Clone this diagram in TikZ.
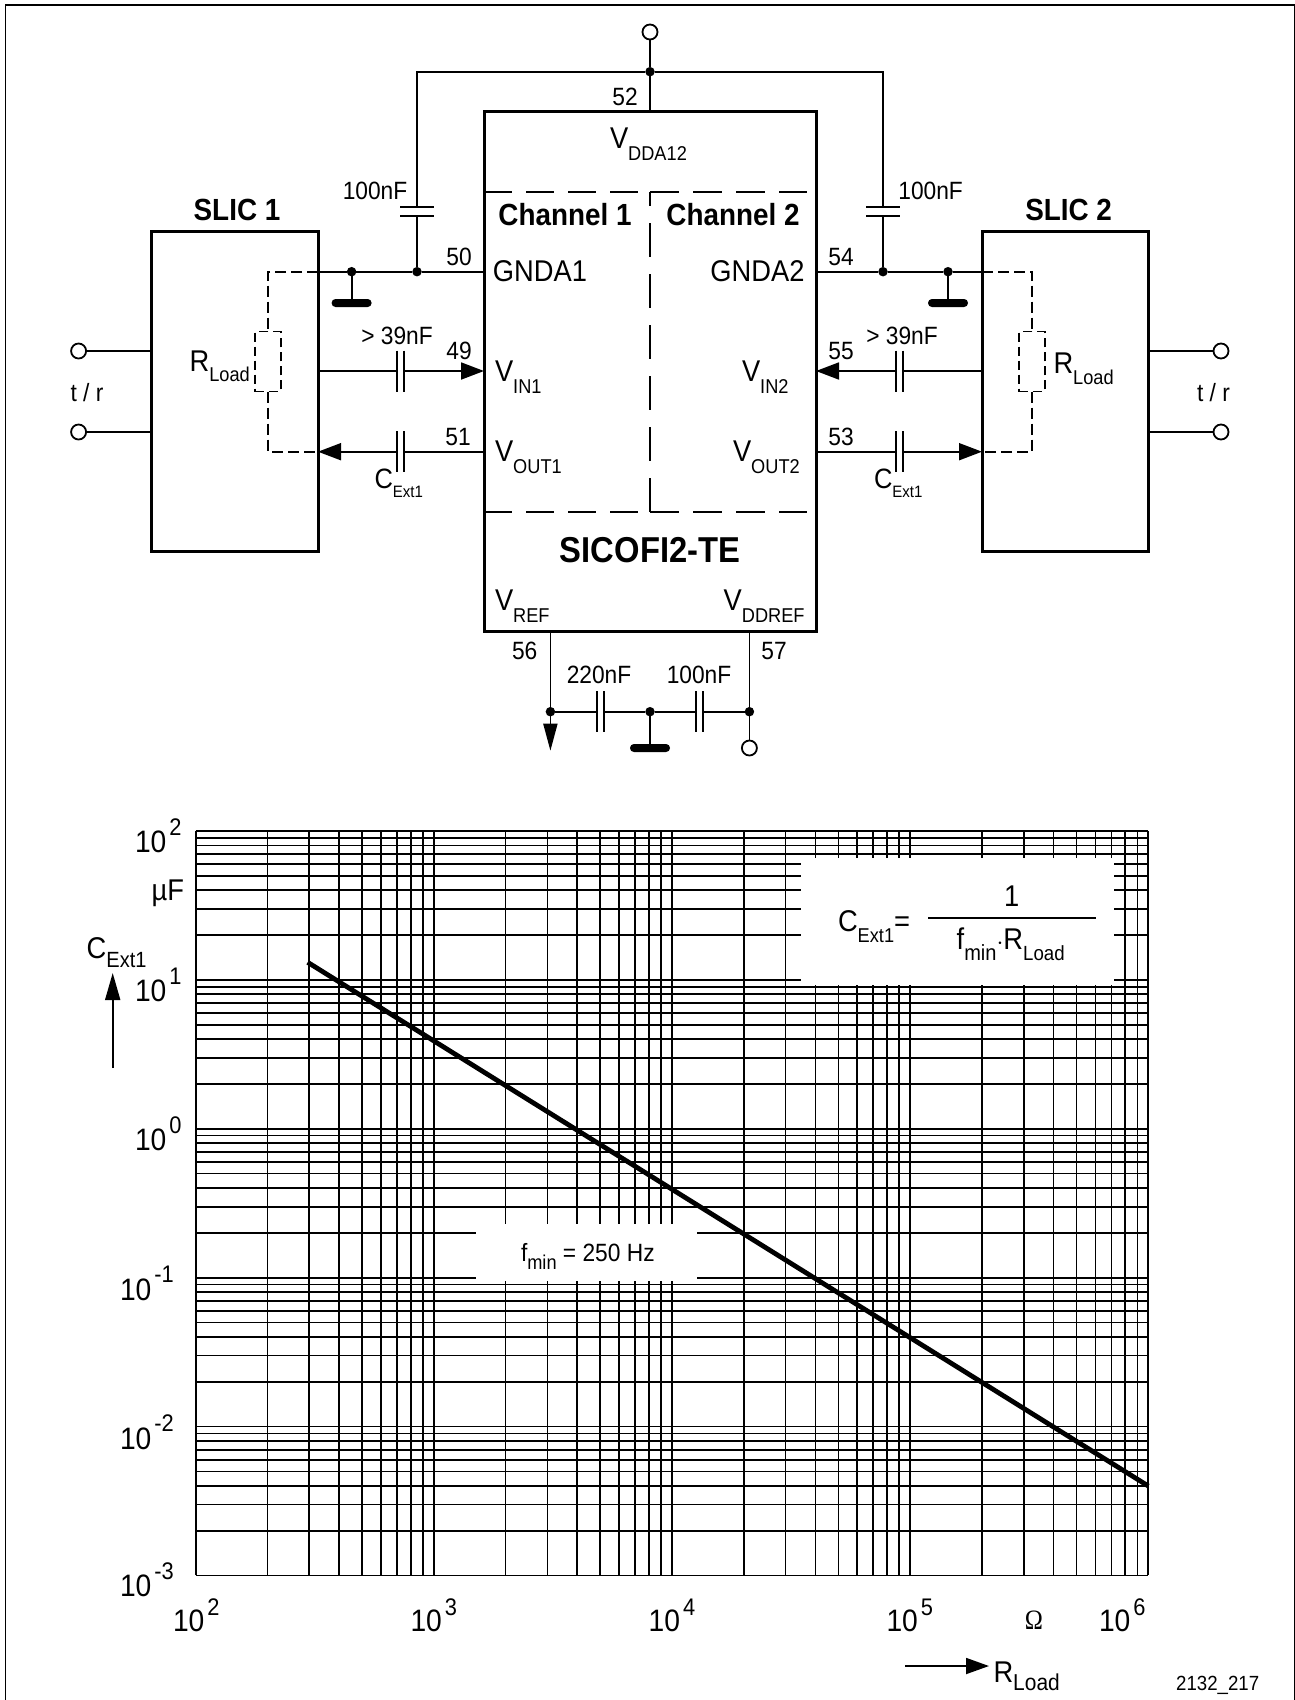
\documentclass[tikz,border=0pt]{standalone}
\usepackage{fontspec}
\setmainfont[FakeStretch=0.91]{Liberation Sans}
\newfontfamily\omegafont[FakeStretch=0.87]{Liberation Serif}
\usetikzlibrary{arrows.meta}
\newcommand\fs[1]{\fontsize{#1}{#1}\selectfont}
\newcommand\lowtxt[3]{\raisebox{-#1pt}{\fs{#2}#3}}
\newcommand\hightxt[3]{\raisebox{#1pt}{\fs{#2}#3}}
\newcommand\capH[2]{\node[capnode,minimum width=7pt,minimum height=41pt] (#1) at (#2) {};}
\newcommand\capV[2]{\node[capnode,minimum width=34pt,minimum height=8.7pt] (#1) at (#2) {};}
\newcommand\plateH[1]{\draw[wire] (#1.north west) -- (#1.south west) (#1.north east) -- (#1.south east);}
\newcommand\plateV[1]{\draw[wire] (#1.north west) -- (#1.north east) (#1.south west) -- (#1.south east);}
\tikzset{
  wire/.style={line width=1.8pt,line cap=butt},
  tipped/.style={wire,-{Triangle[length=23pt,width=17pt]}},
  box/.style={draw,line width=3pt,inner sep=0pt,outer sep=0pt,rectangle},
  capnode/.style={rectangle,inner sep=0pt,outer sep=0pt},
  junction/.style={circle,fill=black,inner sep=0pt,outer sep=0pt,minimum size=9.5pt},
  terminal/.style={circle,draw,line width=1.8pt,fill=white,inner sep=0pt,outer sep=0pt,minimum size=15pt},
  groundbar/.style={rectangle,rounded corners=3.9pt,fill=black,inner sep=0pt,outer sep=0pt,minimum width=40pt,minimum height=8pt},
  rload/.style={rectangle,draw,line width=1.5pt,dash pattern=on 9pt off 5pt,inner sep=0pt,outer sep=0pt,minimum width=25.6pt,minimum height=60pt},
  tdash/.style={line width=1.6pt,dash pattern=on 11pt off 5pt},
  chandash/.style={line width=1.8pt,dash pattern=on 28pt off 14pt},
  vdash/.style={line width=1.8pt,dash pattern=on 33.5pt off 17.5pt},
  gridline/.style={line width=1.7pt},
  txt/.style={inner sep=0pt,outer sep=0pt,font=\fs{25}},
  pintxt/.style={txt,anchor=base west,font=\fs{30}},
  ctxt/.style={txt,anchor=base west,font=\fs{28}},
  boldtxt/.style={txt,font=\fs{30.6}\bfseries},
  axistxt/.style={txt,anchor=base west,font=\fs{31}},
  whitebox/.style={rectangle,fill=white,inner sep=0pt,outer sep=0pt}
}
\begin{document}
\begin{tikzpicture}[x=1pt,y=-1pt]
\useasboundingbox (0,0) rectangle (1295,1700);
\draw[line width=1.6pt] (5.3,5) rectangle (1294.4,1705);

% ---------- blocks
\node[box,minimum width=332pt,minimum height=520pt] (chip) at (650,371.7) {};
\node[box,minimum width=167pt,minimum height=320pt] (slicA) at (234.5,391.7) {};
\node[box,minimum width=166pt,minimum height=320pt] (slicB) at (1065,391.7) {};

% ---------- inner dashes of the chip
\coordinate (dTL) at (484,191.7);
\coordinate (dTM) at (640,191.7);
\coordinate (dTC) at (650,191.7);
\coordinate (dTR) at (806.5,191.7);
\coordinate (dBL) at (484,511.7);
\coordinate (dBM) at (640,511.7);
\coordinate (dBC) at (650,511.7);
\coordinate (dBR) at (806.5,511.7);
\draw[chandash] (dTL) -- (dTM);
\draw[chandash] (dBL) -- (dBM);
\draw[chandash,dash pattern=on 29pt off 14pt] (dTC) -- (dTR);
\draw[chandash,dash pattern=on 29pt off 14pt] (dBC) -- (dBR);
\draw[vdash] (dBC) -- (dTC);

% ---------- supply at the top
\node[terminal] (tTop) at (650,32) {};
\node[junction] (jTop) at (650,71.7) {};
\coordinate (p52) at (650,111.7);
\coordinate (cnTL) at (417,71.7);
\coordinate (cnTR) at (883,71.7);
\capV{cA}{417,211.35}
\capV{cB}{883,211.35}
\node[junction] (jA) at (417,271.7) {};
\node[junction] (jGA) at (351.6,271.7) {};
\node[junction] (jB) at (883,271.7) {};
\node[junction] (jGB) at (948,271.7) {};
\node[groundbar] (gA) at (351.6,303) {};
\node[groundbar] (gB) at (948,303) {};
\coordinate (p50) at (484,271.7);
\coordinate (p54) at (816,271.7);
\coordinate (sAg) at (318,271.7);
\coordinate (sBg) at (982,271.7);
\draw[wire] (tTop) -- (jTop) -- (p52);
\draw[wire] (jTop) -- (cnTL) -- (cA) (cA) -- (jA);
\draw[wire] (jTop) -- (cnTR) -- (cB) (cB) -- (jB);
\plateV{cA}
\plateV{cB}
\draw[wire] (p50) -- (jA) -- (jGA) -- (sAg);
\draw[wire] (p54) -- (jB) -- (jGB) -- (sBg);
\draw[wire] (jGA) -- (gA);
\draw[wire] (jGB) -- (gB);

% ---------- signal lines, left
\coordinate (p49) at (484,371);
\coordinate (sAi) at (318,371);
\coordinate (p51) at (484,451.7);
\coordinate (sAo) at (318,451.7);
\capH{cIa}{400.7,371}
\capH{cOa}{400.7,451.7}
\draw[wire] (sAi) -- (cIa);
\draw[tipped] (cIa) -- (p49);
\draw[wire] (p51) -- (cOa);
\draw[tipped] (cOa) -- (sAo);
\plateH{cIa}
\plateH{cOa}

% ---------- signal lines, right
\coordinate (p55) at (816,371);
\coordinate (sBi) at (982,371);
\coordinate (p53) at (816,451.7);
\coordinate (sBo) at (982,451.7);
\capH{cIb}{899.5,371}
\capH{cOb}{899.5,451.7}
\draw[wire] (sBi) -- (cIb);
\draw[tipped] (cIb) -- (p55);
\draw[wire] (p53) -- (cOb);
\draw[tipped] (cOb) -- (sBo);
\plateH{cIb}
\plateH{cOb}

% ---------- load resistors
\node[rload] (rA) at (268,361.7) {};
\node[rload] (rB) at (1032,361.7) {};
\coordinate (aT) at (268,271.7);
\coordinate (aB) at (268,451.7);
\coordinate (bT) at (1032,271.7);
\coordinate (bB) at (1032,451.7);
\draw[tdash] (sAg) -- (aT) -- (rA.north);
\draw[tdash] (rA.south) -- (aB) -- (sAo);
\draw[tdash] (sBg) -- (bT) -- (rB.north);
\draw[tdash] (rB.south) -- (bB) -- (sBo);

% ---------- t/r terminals
\node[terminal] (tA1) at (78.6,351) {};
\node[terminal] (tA2) at (78.6,432) {};
\node[terminal] (tB1) at (1221,351) {};
\node[terminal] (tB2) at (1221,432) {};
\coordinate (sAt1) at (151,351);
\coordinate (sAt2) at (151,432);
\coordinate (sBt1) at (1148,351);
\coordinate (sBt2) at (1148,432);
\draw[wire] (tA1) -- (sAt1);
\draw[wire] (tA2) -- (sAt2);
\draw[wire] (tB1) -- (sBt1);
\draw[wire] (tB2) -- (sBt2);

% ---------- reference pins
\coordinate (p56) at (550.4,631.7);
\coordinate (p57) at (749.4,631.7);
\node[junction] (jR) at (550.4,711.7) {};
\node[junction] (jRG) at (650,711.7) {};
\node[junction] (jD) at (749.4,711.7) {};
\node[groundbar] (gR) at (650,748) {};
\node[terminal] (tD) at (749.4,748) {};
\coordinate (arrR) at (550.4,750.7);
\capH{cR}{600.5,711.7}
\capH{cD}{699.5,711.7}
\draw[wire] (p56) -- (jR);
\draw[wire] (p57) -- (jD) -- (tD);
\draw[wire,-{Triangle[length=27pt,width=14pt]}] (jR) -- (arrR);
\draw[wire] (jR) -- (cR) (cR) -- (jRG) -- (cD) (cD) -- (jD);
\draw[wire] (jRG) -- (gR);
\plateH{cR}
\plateH{cD}

% ---------- circuit labels
\node[txt] (l52) at (625,97) {52};
\node[pintxt] (lVdd) at (610,148.3) {V\lowtxt{12}{20}{DDA12}};
\node[boldtxt] (lCh1) at (565,215) {Channel 1};
\node[boldtxt] (lCh2) at (733,215) {Channel 2};
\node[boldtxt] (lSa) at (237,210) {SLIC 1};
\node[boldtxt] (lSb) at (1068.6,210) {SLIC 2};
\node[txt] (lCa) at (375,191) {100nF};
\node[txt] (lCb) at (930.6,191) {100nF};
\node[txt] (l50) at (459,257) {50};
\node[txt] (l54) at (841,257) {54};
\node[txt,font=\fs{30}] (lGa) at (540,271) {GNDA1};
\node[txt,font=\fs{30}] (lGb) at (757.5,271) {GNDA2};
\node[txt] (lIa) at (397,336) {> 39nF};
\node[txt] (lIb) at (902,336) {> 39nF};
\node[txt] (l49) at (459,351) {49};
\node[txt] (l55) at (841,351) {55};
\node[pintxt] (lVia) at (495,381.7) {V\lowtxt{12}{20}{IN1}};
\node[pintxt] (lVib) at (742,381.7) {V\lowtxt{12}{20}{IN2}};
\node[txt] (l51) at (458,437) {51};
\node[txt] (l53) at (841,437) {53};
\node[pintxt] (lVoa) at (495,461.7) {V\lowtxt{12}{20}{OUT1}};
\node[pintxt] (lVob) at (733,461.7) {V\lowtxt{12}{20}{OUT2}};
\node[ctxt] (lCea) at (374.5,488.3) {C\lowtxt{9}{16.5}{Ext1}};
\node[ctxt] (lCeb) at (874,488.3) {C\lowtxt{9}{16.5}{Ext1}};
\node[pintxt] (lRa) at (189.6,371.7) {R\lowtxt{10}{20}{Load}};
\node[pintxt] (lRb) at (1053.5,373) {R\lowtxt{11}{20}{Load}};
\node[txt] (lTa) at (87,393) {t / r};
\node[txt] (lTb) at (1213.5,393) {t / r};
\node[boldtxt,font=\fs{36}\bfseries] (lChip) at (650,550) {SICOFI2-TE};
\node[pintxt] (lVr) at (495,610.7) {V\lowtxt{12}{20}{REF}};
\node[pintxt] (lVd) at (723.7,610.7) {V\lowtxt{12}{20}{DDREF}};
\node[txt] (l56) at (524.7,650.7) {56};
\node[txt] (l57) at (774,650.7) {57};
\node[txt] (lCr) at (599,675) {220nF};
\node[txt] (lCd) at (699,675) {100nF};

% ---------- log-log grid
\foreach \d in {0,1,2,3} \foreach \m in {1,...,9} {
  \pgfmathsetmacro{\gx}{195.7+238.15*(\d+log10(\m))}
  \draw[gridline] (\gx,831) -- (\gx,1575.3);
}
\foreach \d in {0,1,2,3,4} \foreach \m in {1,...,9} {
  \pgfmathsetmacro{\gy}{831+148.9*(\d+1-log10(\m))}
  \draw[gridline] (195.7,\gy) -- (1148.3,\gy);
}
\draw[gridline] (1148.3,831) -- (1148.3,1575.3);
\draw[gridline] (195.7,831) -- (1148.3,831);
\node[whitebox,minimum width=313pt,minimum height=127pt] (fBox) at (957.5,921.5) {};
\node[whitebox,minimum width=221.3pt,minimum height=57pt] (mBox) at (586.35,1252.5) {};
\coordinate (cvS) at (307.7,962.3);
\coordinate (cvE) at (1148.3,1486);
\draw[line width=4.8pt] (cvS) -- (cvE);

% ---------- formula and curve label
\node[pintxt] (lF) at (838,931.7) {C\lowtxt{11}{20}{Ext1}=};
\coordinate (fracL) at (928,917.7);
\coordinate (fracR) at (1096,917.7);
\draw[line width=1.8pt] (fracL) -- (fracR);
\node[txt,font=\fs{30}] (lOne) at (1011.7,896) {1};
\node[pintxt] (lDen) at (956.7,949.3) {f\lowtxt{11}{22}{min}$\cdot$R\lowtxt{11}{20.5}{Load}};
\node[txt,anchor=base west,font=\fs{25}] (lFm) at (521,1261) {f\lowtxt{8}{20}{min} = 250 Hz};

% ---------- axis labels
\node[axistxt] (y2) at (135,852.7) {10\hspace{3pt}\hightxt{17.5}{24}{2}};
\node[axistxt] (y1) at (135,1001.7) {10\hspace{3pt}\hightxt{17.5}{24}{1}};
\node[axistxt] (y0) at (135,1150.7) {10\hspace{3pt}\hightxt{17.5}{24}{0}};
\node[axistxt] (ym1) at (120,1300) {10\hspace{3pt}\hightxt{17.5}{24}{-1}};
\node[axistxt] (ym2) at (120,1449) {10\hspace{3pt}\hightxt{17.5}{24}{-2}};
\node[axistxt] (ym3) at (120,1596.7) {10\hspace{3pt}\hightxt{17.5}{24}{-3}};
\node[txt,anchor=base east,font=\fs{30}] (lUF) at (184,900) {µF};
\node[pintxt] (lCy) at (86.7,958) {C\lowtxt{9}{22}{Ext1}};
\coordinate (ayT) at (112.7,1068);
\coordinate (ayH) at (112.7,973);
\draw[wire,-{Triangle[length=27pt,width=15pt]}] (ayT) -- (ayH);
\node[axistxt] (x2) at (173,1631.7) {10\hspace{3pt}\hightxt{16.7}{24}{2}};
\node[axistxt] (x3) at (410.5,1631.7) {10\hspace{3pt}\hightxt{16.7}{24}{3}};
\node[axistxt] (x4) at (648.7,1631.7) {10\hspace{3pt}\hightxt{16.7}{24}{4}};
\node[axistxt] (x5) at (886.5,1631.7) {10\hspace{3pt}\hightxt{16.7}{24}{5}};
\node[axistxt] (x6) at (1099,1631.7) {10\hspace{3pt}\hightxt{16.7}{24}{6}};
\node[txt,font=\fs{28}\omegafont] (lOm) at (1034,1620) {Ω};
\coordinate (axT) at (905,1666);
\coordinate (axH) at (989,1666);
\draw[wire,-{Triangle[length=23pt,width=16pt]}] (axT) -- (axH);
\node[pintxt] (lRx) at (993.5,1682.7) {R\lowtxt{7.3}{23}{Load}};
\node[txt,font=\fs{20.5}] (lId) at (1217.7,1685.7) {2132\_217};
\end{tikzpicture}
\end{document}
